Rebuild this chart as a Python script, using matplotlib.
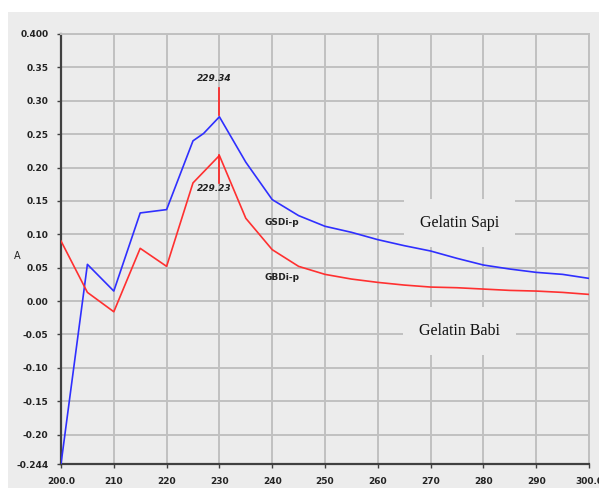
import matplotlib
matplotlib.use("Agg")
import matplotlib.pyplot as plt
from matplotlib.patches import Rectangle

# Data
wl_sapi = [200, 205, 210, 215, 220, 225, 227, 230, 235, 240, 245, 250, 255, 260,
           265, 270, 275, 280, 285, 290, 295, 300]
abs_sapi = [-0.244, 0.055, 0.015, 0.132, 0.137, 0.240, 0.251, 0.276, 0.208, 0.152,
            0.128, 0.112, 0.103, 0.092, 0.083, 0.075, 0.064, 0.054, 0.048, 0.043,
            0.040, 0.034]
wl_babi = [200, 205, 210, 215, 220, 225, 230, 235, 240, 245, 250, 255, 260, 265,
           270, 275, 280, 285, 290, 295, 300]
abs_babi = [0.090, 0.013, -0.016, 0.079, 0.052, 0.177, 0.218, 0.124, 0.077, 0.052,
            0.040, 0.033, 0.028, 0.024, 0.021, 0.020, 0.018, 0.016, 0.015, 0.013,
            0.010]

xticks = [200, 210, 220, 230, 240, 250, 260, 270, 280, 290, 300]
xticklabels = ["200.0", "210", "220", "230", "240", "250", "260", "270", "280",
               "290", "300.0"]
yticks = [0.40, 0.35, 0.30, 0.25, 0.20, 0.15, 0.10, 0.05, 0.00, -0.05, -0.10,
          -0.15, -0.20, -0.244]
yticklabels = ["0.400", "0.35", "0.30", "0.25", "0.20", "0.15", "0.10", "0.05",
               "0.00", "-0.05", "-0.10", "-0.15", "-0.20", "-0.244"]

peak_sapi_label = "229.34"
peak_babi_label = "229.23"

W, H = 599, 488
fig = plt.figure(figsize=(W / 100, H / 100), dpi=100)
fig.patch.set_facecolor("white")
panel = Rectangle((8 / W, 0), 1 - 8 / W, 1 - 12 / H, transform=fig.transFigure,
                  facecolor="#ececec", edgecolor="none", zorder=-10)
fig.add_artist(panel)

ax = fig.add_axes([61 / W, 1 - 464 / H, (589 - 61) / W, (464 - 34) / H])
ax.set_facecolor("#ececec")

ax.plot(wl_sapi, abs_sapi, color="#2f2fff", lw=1.2, zorder=3)
ax.plot(wl_babi, abs_babi, color="#ff3030", lw=1.2, zorder=3)

ax.set_xlim(200, 300)
ax.set_ylim(-0.244, 0.40)
ax.set_xticks(xticks)
ax.set_xticklabels(xticklabels)
ax.set_yticks(yticks)
ax.set_yticklabels(yticklabels)
ax.grid(True, color="#c0c0c0", lw=1.4, zorder=1)
ax.set_axisbelow(True)

ax.tick_params(axis="both", labelsize=6.5, length=3, width=1, color="#404040",
               direction="out")
ax.tick_params(axis="x", pad=6)
ax.tick_params(axis="y", pad=6)
for t in ax.get_xticklabels() + ax.get_yticklabels():
    t.set_fontweight("bold")
    t.set_color("#222222")

for s in ["left", "bottom"]:
    ax.spines[s].set_color("#404040")
    ax.spines[s].set_linewidth(1.6)
for s in ["top", "right"]:
    ax.spines[s].set_color("#c0c0c0")
    ax.spines[s].set_linewidth(1.4)

fig.text(17 / W, 1 - 256 / H, "A", fontsize=7, ha="center", va="center",
         color="#222222")

# Peak markers
ax.plot([230, 230], [0.279, 0.319], color="#ff2020", lw=1.2, zorder=4)
ax.plot([230, 230], [0.177, 0.219], color="#ff2020", lw=1.2, zorder=4)
ax.text(229.0, 0.334, peak_sapi_label, fontsize=6.5, ha="center", va="center",
        fontstyle="italic", fontweight="bold", color="#222222")
ax.text(229.0, 0.169, peak_babi_label, fontsize=6.5, ha="center", va="center",
        fontstyle="italic", fontweight="bold", color="#222222")

ax.text(238.6, 0.117, "GSDi-p", fontsize=6.5, ha="left", va="center",
        fontweight="bold", color="#222222", zorder=5)
ax.text(238.6, 0.036, "GBDi-p", fontsize=6.5, ha="left", va="center",
        fontweight="bold", color="#222222", zorder=5)

box = dict(boxstyle="square,pad=1.0", facecolor="#ececec", edgecolor="none")
ax.text(275.5, 0.117, "Gelatin Sapi", fontsize=11.5, family="Liberation Serif",
        ha="center", va="center", color="#111111", bbox=box, zorder=2)
ax.text(275.5, -0.045, "Gelatin Babi", fontsize=11.5, family="Liberation Serif",
        ha="center", va="center", color="#111111", bbox=box, zorder=2)

fig.savefig("out.png", dpi=100)
